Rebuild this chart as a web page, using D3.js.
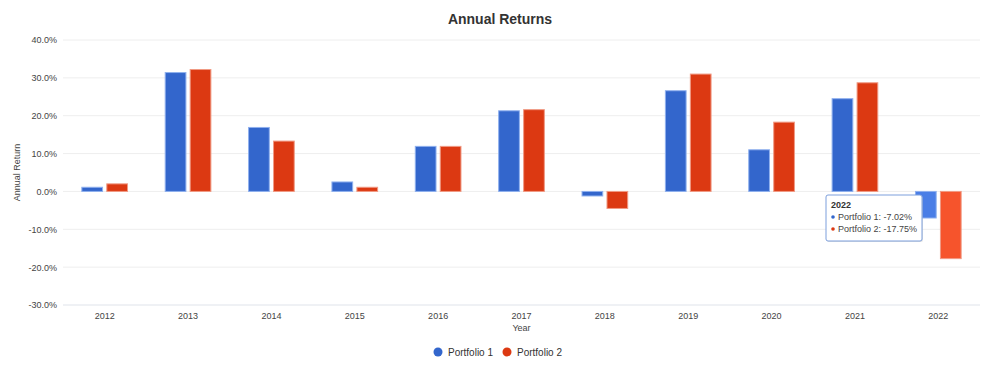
<!DOCTYPE html>
<html>
<head>
<meta charset="utf-8">
<script src="https://cdn.jsdelivr.net/npm/d3@7"></script>
<style>
  body { margin: 0; background: #fff; }
  svg { font-family: "Liberation Sans", Arial, sans-serif; }
</style>
</head>
<body>
<div id="chart"></div>
<script>
// data
var years = ["2012","2013","2014","2015","2016","2017","2018","2019","2020","2021","2022"];
var portfolio1 = [1.1, 31.4, 16.9, 2.5, 11.9, 21.3, -1.2, 26.6, 11.0, 24.5, -7.02];
var portfolio2 = [2.0, 32.2, 13.3, 1.1, 11.9, 21.6, -4.5, 31.0, 18.3, 28.7, -17.75];
var seriesNames = ["Portfolio 1", "Portfolio 2"];
var yTicks = [-30, -20, -10, 0, 10, 20, 30, 40];
var hoverYear = "2022";

var W = 1000, H = 367;
var margin = {left: 63, right: 20, top: 40, bottom: 62};

var colors = ["#3366cc", "#dc3912"];
var hoverColors = ["#4a7ee6", "#f6542c"];

var svg = d3.select("#chart").append("svg")
  .attr("width", W).attr("height", H);

var x = d3.scaleBand().domain(years)
  .range([margin.left, W - margin.right]).paddingInner(0.44).paddingOuter(0.22);
var x1 = d3.scaleBand().domain([0, 1]).range([0, x.bandwidth()]).paddingInner(0.13);
var y = d3.scaleLinear().domain([-30, 40]).range([H - margin.bottom, margin.top]);

// grid
svg.append("g").selectAll("line").data(yTicks).enter().append("line")
  .attr("x1", margin.left).attr("x2", W - margin.right)
  .attr("y1", function(d){ return y(d); }).attr("y2", function(d){ return y(d); })
  .attr("stroke", function(d){ return d == -30 ? "#dfe3ea" : "#eeeeee"; })
  .attr("stroke-width", 1);

// y axis labels
var yAxis = d3.axisLeft(y).tickValues(yTicks).tickSize(0).tickPadding(6)
  .tickFormat(function(d){ return d.toFixed(1) + "%"; });
var ya = svg.append("g").attr("transform", "translate(" + (margin.left - 0) + ",0)").call(yAxis);
ya.select(".domain").remove();
ya.selectAll("text").attr("fill", "#444").style("font-size", "9px");

// x axis labels
var xAxis = d3.axisBottom(x).tickSize(0).tickPadding(8);
var xa = svg.append("g").attr("transform", "translate(0," + y(-30) + ")").call(xAxis);
xa.select(".domain").remove();
xa.selectAll("text").attr("fill", "#444").style("font-size", "9px");

// bars
var rows = years.map(function(yr, i){ return {year: yr, vals: [portfolio1[i], portfolio2[i]]}; });
var groups = svg.append("g").selectAll("g").data(rows).enter().append("g")
  .attr("transform", function(d){ return "translate(" + x(d.year) + ",0)"; });
groups.selectAll("rect").data(function(d){
    return d.vals.map(function(v, k){ return {v: v, k: k, year: d.year}; });
  }).enter().append("rect")
  .attr("x", function(d){ return x1(d.k) + 0.5; })
  .attr("width", x1.bandwidth() - 1)
  .attr("y", function(d){ return Math.min(y(d.v), y(0)); })
  .attr("height", function(d){ return Math.abs(y(d.v) - y(0)); })
  .attr("fill", function(d){ return d.year == hoverYear ? hoverColors[d.k] : colors[d.k]; })
  .attr("stroke", function(d){ return d.k == 0 ? "#8fb0ee" : "#f09a84"; })
  .attr("stroke-width", 1);

// title
svg.append("text").attr("x", 500).attr("y", 24).attr("text-anchor", "middle")
  .style("font-size", "14px").style("font-weight", "bold").attr("fill", "#333")
  .text("Annual Returns");

// axis titles
svg.append("text").attr("transform", "translate(20," + y(5) + ") rotate(-90)")
  .attr("text-anchor", "middle").style("font-size", "9px").attr("fill", "#444")
  .text("Annual Return");
svg.append("text").attr("x", x("2017") + x.bandwidth() / 2).attr("y", 331)
  .attr("text-anchor", "middle").style("font-size", "9px").attr("fill", "#444")
  .text("Year");

// legend
var legX = [438, 507];
var leg = svg.append("g").selectAll("g").data(seriesNames).enter().append("g")
  .attr("transform", function(d, i){ return "translate(" + legX[i] + ",352)"; });
leg.append("circle").attr("r", 4.5).attr("fill", function(d, i){ return colors[i]; });
leg.append("text").attr("x", 10).attr("y", 3.5).style("font-size", "10px").attr("fill", "#333")
  .text(function(d){ return d; });

// tooltip for hovered year
var hi = years.indexOf(hoverYear);
var tip = svg.append("g").attr("transform", "translate(826,195)");
tip.append("rect").attr("x", 1).attr("y", 1).attr("width", 96).attr("height", 46).attr("rx", 2)
  .attr("fill", "#ccc").attr("opacity", 0.5);
tip.append("rect").attr("width", 96).attr("height", 46).attr("rx", 2)
  .attr("fill", "#fff").attr("stroke", "#7d9fdc").attr("stroke-width", 1);
tip.append("text").attr("x", 5).attr("y", 13).style("font-size", "9px").style("font-weight", "bold")
  .attr("fill", "#333").text(hoverYear);
var vals = [portfolio1[hi], portfolio2[hi]];
seriesNames.forEach(function(n, i){
  var yy = 25 + i * 12;
  tip.append("circle").attr("cx", 7).attr("cy", yy - 3).attr("r", 1.8).attr("fill", colors[i]);
  tip.append("text").attr("x", 12).attr("y", yy).style("font-size", "9px").attr("fill", "#444")
    .text(n + ": " + vals[i].toFixed(2) + "%");
});
</script>
</body>
</html>
